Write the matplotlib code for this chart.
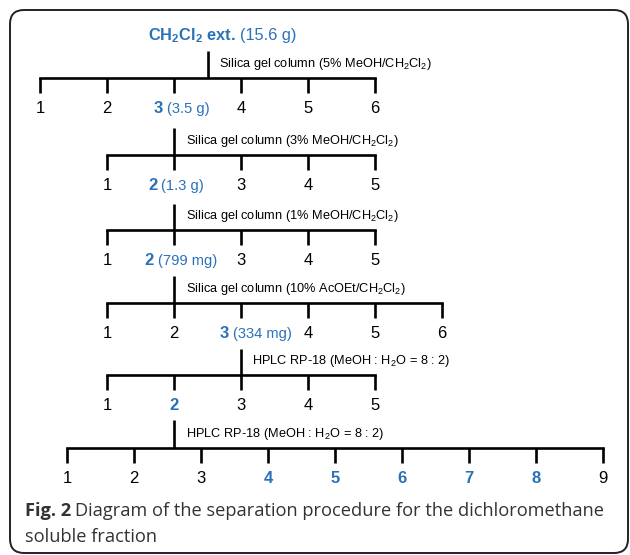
import matplotlib.pyplot as plt
from matplotlib.patches import FancyBboxPatch

plt.rcParams['mathtext.fontset'] = 'custom'
plt.rcParams['mathtext.rm'] = 'Liberation Sans'
plt.rcParams['mathtext.it'] = 'Liberation Sans:italic'
plt.rcParams['mathtext.bf'] = 'Liberation Sans:bold'

# separation steps (top to bottom)
start_label = r'CH$_\mathbf{2}$Cl$_\mathbf{2}$ ext.'
start_amount = '(15.6 g)'
methods = [r'Silica gel column (5% MeOH/CH$_2$Cl$_2$)',
           r'Silica gel column (3% MeOH/CH$_2$Cl$_2$)',
           r'Silica gel column (1% MeOH/CH$_2$Cl$_2$)',
           r'Silica gel column (10% AcOEt/CH$_2$Cl$_2$)',
           r'HPLC RP-18 (MeOH : H$_2$O = 8 : 2)',
           r'HPLC RP-18 (MeOH : H$_2$O = 8 : 2)']
n_fractions = [6, 5, 5, 6, 5, 9]
selected = [3, 2, 2, 3, 2, None]          # fraction passed to next step
amounts = ['(3.5 g)', '(1.3 g)', '(799 mg)', '(334 mg)', '', '']
compounds = [4, 5, 6, 7, 8]               # highlighted fractions of last step

# layout (pixels)
W, H = 630, 555
step = 67
first_x = [40, 107, 107, 107, 107, 67]
line_y = [78, 155, 230, 303, 375, 448]
stem_len = [27, 27, 26, 27, 26, 28]
tick_len = 15
label_dy = 35
label_shift = [8, 2, 7, 15, 0, 0]
blue = '#2a72b8'
font = 'Liberation Sans'
num_size, amt_size = 12, 10.6

fig = plt.figure(figsize=(W / 100, H / 100), dpi=100)
ax = fig.add_axes([0, 0, 1, 1])
ax.set_xlim(0, W)
ax.set_ylim(H, 0)
ax.axis('off')
renderer = fig.canvas.get_renderer()


def width(s, **kw):
    t = ax.text(0, 0, s, **kw)
    w = t.get_window_extent(renderer).width
    t.remove()
    return w


def two_part(cx, y, a, b, size_a, size_b):
    kw_a = dict(fontsize=size_a, family=font, weight='bold', color=blue)
    kw_b = dict(fontsize=size_b, family=font, color=blue)
    gap = 4
    wa_ = width(a, **kw_a)
    wb_ = width(b, **kw_b)
    x0 = cx - (wa_ + gap + wb_) / 2
    ax.text(x0, y, a, ha='left', va='baseline', **kw_a)
    ax.text(x0 + wa_ + gap, y, b, ha='left', va='baseline', **kw_b)


lw = 1.9
# starting extract
stem_x = first_x[0] + step * (n_fractions[0] - 1) / 2
two_part(stem_x + 15, 40, start_label, start_amount, 11.8, 11.8)

for i, n in enumerate(n_fractions):
    xs = [first_x[i] + step * k for k in range(n)]
    y = line_y[i]
    ax.plot([stem_x, stem_x], [y - stem_len[i], y], color='black', lw=lw,
            solid_capstyle='butt')
    ax.plot([xs[0], xs[-1]], [y, y], color='black', lw=lw, solid_capstyle='projecting')
    for x in xs:
        ax.plot([x, x], [y, y + tick_len], color='black', lw=lw, solid_capstyle='butt')
    ax.text(stem_x + 11.5, y - 14, methods[i], fontsize=9.2, family=font,
            ha='left', va='center')
    for k, x in enumerate(xs):
        num = str(k + 1)
        ly = y + label_dy
        if selected[i] == k + 1 and amounts[i]:
            two_part(x + label_shift[i], ly, num, amounts[i], num_size, amt_size)
        elif selected[i] == k + 1 or (selected[i] is None and k + 1 in compounds):
            ax.text(x, ly, num, fontsize=num_size, family=font, weight='bold',
                    color=blue, ha='center', va='baseline')
        else:
            ax.text(x, ly, num, fontsize=num_size, family=font, ha='center',
                    va='baseline')
    if selected[i] is not None:
        stem_x = xs[selected[i] - 1]

# caption
cap_kw = dict(fontsize=13.15, family='Open Sans', color='#333333', va='baseline', ha='left')
ax.text(25, 516, 'Fig. 2', weight='bold', **cap_kw)
wcap = width('Fig. 2', fontsize=13.15, family='Open Sans', weight='bold')
ax.text(25 + wcap + 4, 516, 'Diagram of the separation procedure for the dichloromethane',
        **cap_kw)
ax.text(25, 542, 'soluble fraction', **cap_kw)

# rounded frame
frame = FancyBboxPatch((10, 10), 618, 543, boxstyle='round,pad=0,rounding_size=14',
                       fill=False, ec='#222222', lw=1.4)
ax.add_patch(frame)

fig.savefig('out.png', dpi=100)
